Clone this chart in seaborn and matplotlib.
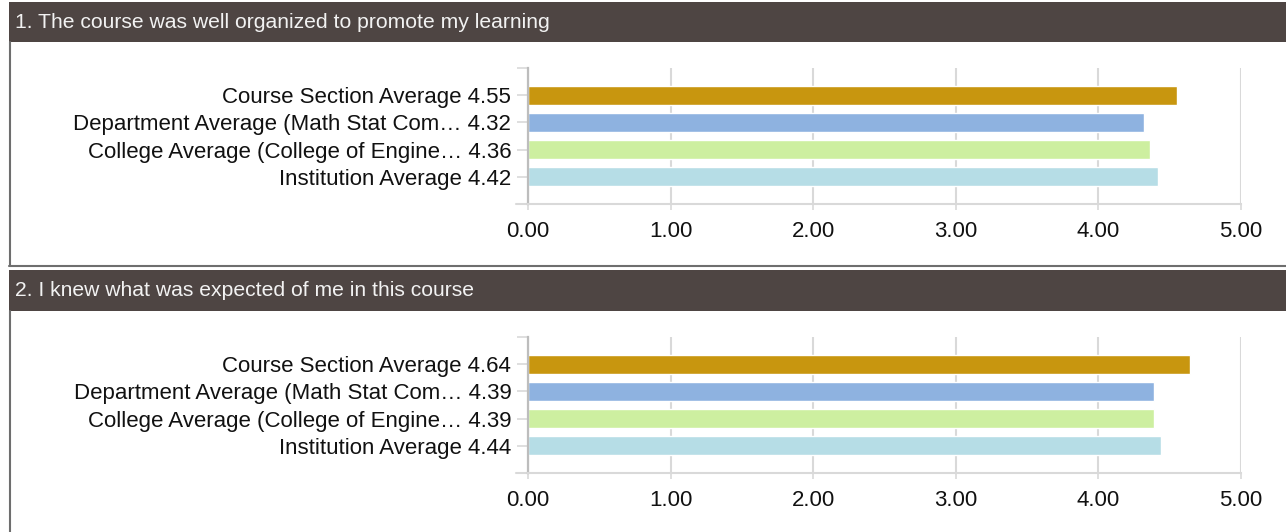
import matplotlib
matplotlib.use("Agg")
import matplotlib.pyplot as plt
from matplotlib.patches import Rectangle
from matplotlib.lines import Line2D
import seaborn as sns

# Data
categories = [
    "Course Section Average",
    "Department Average (Math Stat Com\u2026",
    "College Average (College of Engine\u2026",
    "Institution Average",
]
q1_values = [4.55, 4.32, 4.36, 4.42]
q2_values = [4.64, 4.39, 4.39, 4.44]
questions = [
    "1. The course was well organized to promote my learning",
    "2. I knew what was expected of me in this course",
]
bar_colors = ["#C8960F", "#8EB2E0", "#CDEFA0", "#B6DDE6"]
x_ticks = [0, 1, 2, 3, 4, 5]

HEADER = "#4E4543"
BORDER = "#6E6E6E"
GRID = "#D9D9D9"

sns.set_theme(style="white")
plt.rcParams["font.family"] = ["Liberation Sans", "DejaVu Sans"]

W, H = 1286, 532
fig = plt.figure(figsize=(W / 100, H / 100), dpi=100)


def px_box(x0, y0, x1, y1):
    """pixel box (top-left origin) -> figure fraction rect"""
    return [x0 / W, 1 - y1 / H, (x1 - x0) / W, (y1 - y0) / H]


def panel(values, title, head_top, head_bot, ax_top, ax_bot, box_bot=None):
    # header strip
    l, b, w, h = px_box(9, head_top, W, head_bot)
    fig.patches.append(Rectangle((l, b), w, h, transform=fig.transFigure,
                                 facecolor=HEADER, edgecolor="none", zorder=0))
    fig.text(15 / W, 1 - (head_top + head_bot) / 2 / H, title, color="#F2F2F2",
             fontsize=15.2, ha="left", va="center")
    # box borders
    y_end = box_bot if box_bot is not None else H
    fig.lines.append(Line2D([9.5 / W, 9.5 / W], [1 - head_bot / H, 1 - y_end / H],
                            transform=fig.transFigure, color=BORDER, lw=1.5))
    if box_bot is not None:
        fig.lines.append(Line2D([9 / W, 1], [1 - box_bot / H, 1 - box_bot / H],
                                transform=fig.transFigure, color=BORDER, lw=1.5))

    ax = fig.add_axes(px_box(528, ax_top, 1241, ax_bot))
    sns.barplot(x=values, y=categories, hue=categories, palette=bar_colors,
                legend=False, width=0.7, saturation=1, ax=ax)
    ax.set_xlim(0, 5)
    ax.set_ylim(4, -1)
    ax.set_xticks(x_ticks)
    ax.set_xticklabels([f"{t:.2f}" for t in x_ticks])
    ax.set_yticks(range(len(categories)))
    ax.set_yticklabels([f"{c} {v:.2f}" for c, v in zip(categories, values)])
    ax.set_yticks([-1, 4], minor=True)
    ax.set_xlabel("")
    ax.set_ylabel("")
    ax.grid(axis="x", color=GRID, lw=1.5, zorder=0)
    ax.set_axisbelow(True)
    for s in ["top", "right"]:
        ax.spines[s].set_visible(False)
    ax.spines["left"].set_color("#BDBDBD")
    ax.spines["left"].set_linewidth(1.6)
    ax.spines["bottom"].set_color(GRID)
    ax.spines["bottom"].set_linewidth(1.5)
    ax.tick_params(axis="y", which="both", length=8, width=1.2, color=GRID,
                   pad=4, labelsize=16, labelcolor="#111111", left=True)
    ax.tick_params(axis="x", length=4, width=1.2, color=GRID, pad=8,
                   labelsize=16, labelcolor="#111111", bottom=True)
    # extend bottom axis line to the left like the original
    ax.plot([-0.085, 0], [4, 4], color=GRID, lw=1.5, clip_on=False,
            transform=ax.transData)
    return ax


panel(q1_values, questions[0], 2, 42, 68, 204, box_bot=266)
panel(q2_values, questions[1], 270, 311, 337, 473)

fig.savefig("out.png", dpi=100, facecolor="white")
